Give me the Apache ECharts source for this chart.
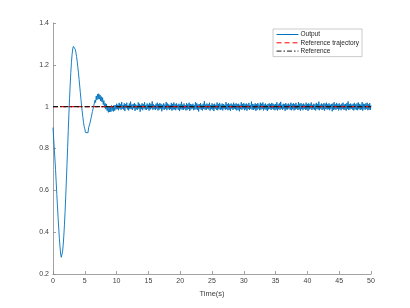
<!DOCTYPE html>
<html>
<head>
<meta charset="utf-8">
<script src="https://cdn.jsdelivr.net/npm/echarts@6/dist/echarts.min.js"></script>
<style>
html,body{margin:0;padding:0;background:#fff;}
#chart{width:410px;height:308px;}
</style>
</head>
<body>
<div id="chart"></div>
<script>
// Sample step of the simulated output (s)
const sampleStep = 0.1;

// Output values, one per sample (t = 0 ... 50 s)
const outputValues = [
0.900,0.850,0.800,0.750,0.700,0.640,0.580,0.525,0.470,0.420,
0.370,0.330,0.295,0.280,0.287,0.306,0.338,0.381,0.435,0.498,
0.569,0.645,0.724,0.805,0.886,0.964,1.038,1.104,1.163,1.212,
1.250,1.276,1.288,1.289,1.284,1.274,1.260,1.240,1.217,1.191,
1.162,1.131,1.099,1.066,1.034,1.003,0.974,0.948,0.925,0.905,
0.894,0.877,0.881,0.869,0.885,0.875,0.899,0.892,0.920,0.914,
0.947,0.942,0.977,0.970,1.003,0.994,1.031,1.020,1.051,1.032,
1.060,1.036,1.062,1.036,1.056,1.027,1.048,1.023,1.043,1.010,
1.029,0.996,1.016,0.988,1.013,0.981,0.998,0.973,0.999,0.975,
1.000,0.975,1.006,0.981,1.002,0.977,1.007,0.981,1.007,0.987,
1.014,0.988,1.009,0.983,1.018,0.991,1.011,0.985,1.022,0.990,
1.008,0.986,1.016,0.979,1.012,0.993,1.019,0.987,1.006,0.982,
1.015,0.989,1.024,0.988,1.010,0.984,1.013,0.992,1.017,0.980,
1.011,0.987,1.007,0.985,1.020,0.990,1.014,0.976,1.009,0.988,
1.016,0.983,1.012,0.991,1.021,0.986,1.008,0.984,1.015,0.989,
1.010,0.981,1.018,0.987,1.013,0.992,1.025,0.985,1.011,0.988,
1.007,0.984,1.014,0.990,1.019,0.982,1.012,0.986,1.017,0.991,
1.013,0.978,1.009,0.987,1.016,0.985,1.010,0.989,1.022,0.983,
1.015,0.990,1.011,0.984,1.008,0.988,1.018,0.981,1.013,0.986,
1.020,0.987,1.012,0.983,1.016,0.991,1.009,0.985,1.014,0.979,
1.011,0.988,1.023,0.986,1.010,0.984,1.015,0.990,1.007,0.982,
1.017,0.985,1.012,0.989,1.019,0.980,1.013,0.987,1.010,0.991,
1.014,0.983,1.008,0.986,1.021,0.988,1.016,0.984,1.011,0.977,
1.012,0.990,1.017,0.985,1.009,0.982,1.014,0.989,1.026,0.986,
1.010,0.984,1.015,0.991,1.012,0.987,1.019,0.981,1.008,0.988,
1.016,0.986,1.011,0.979,1.014,0.990,1.009,0.985,1.020,0.983,
1.013,0.989,1.018,0.984,1.010,0.987,1.015,0.982,1.012,0.990,
1.009,0.985,1.022,0.988,1.013,0.983,1.017,0.986,1.011,0.980,
1.015,0.991,1.010,0.984,1.019,0.989,1.012,0.987,1.016,0.982,
1.011,0.986,1.014,0.978,1.009,0.988,1.021,0.985,1.013,0.990,
1.017,0.983,1.012,0.987,1.015,0.981,1.010,0.989,1.018,0.984,
1.008,0.990,1.024,0.986,1.013,0.984,1.011,0.988,1.016,0.980,
1.012,0.985,1.017,0.991,1.010,0.983,1.019,0.986,1.014,0.989,
1.020,0.982,1.011,0.988,1.015,0.985,1.009,0.979,1.013,0.987,
1.016,0.989,1.012,0.984,1.018,0.990,1.014,0.986,1.010,0.983,
1.013,0.987,1.021,0.982,1.011,0.988,1.016,0.985,1.023,0.990,
1.009,0.984,1.014,0.989,1.012,0.980,1.017,0.987,1.011,0.986,
1.015,0.991,1.010,0.985,1.019,0.983,1.013,0.988,1.016,0.982,
1.012,0.986,1.018,0.990,1.009,0.984,1.022,0.987,1.014,0.981,
1.017,0.988,1.011,0.983,1.015,0.989,1.010,0.985,1.019,0.986,
1.013,0.980,1.016,0.987,1.012,0.991,1.020,0.984,1.009,0.988,
1.014,0.985,1.011,0.982,1.018,0.989,1.013,0.986,1.024,0.983,
1.010,0.990,1.015,0.984,1.011,0.987,1.017,0.981,1.014,0.989,
1.019,0.986,1.012,0.988,1.016,0.983,1.010,0.990,1.013,0.978,
1.015,0.984,1.021,0.987,1.011,0.985,1.018,0.989,1.012,0.982,
1.016,0.988,1.009,0.983,1.014,0.990,1.019,0.986,1.011,0.985,
1.013,0.981,1.017,0.989,1.025,0.984,1.012,0.987,1.015,0.990,
1.010,0.986,1.014,0.982,1.018,0.988,1.011,0.985,1.016,0.983,
1.020,0.989,1.013,0.984,1.010,0.987,1.022,0.981,1.014,0.988,
1.012,0.985,1.016,0.990,1.019,0.983,1.011,0.986,1.017,0.984,
1.006
];

// Reference trajectory and reference (constant set-point)
const refTime = [0, 50];
const refTrajectoryValues = [1, 1];
const referenceValues = [1, 1];

// Axis ticks
const xTicks = [0, 5, 10, 15, 20, 25, 30, 35, 40, 45, 50];
const yTicks = [0.2, 0.4, 0.6, 0.8, 1, 1.2, 1.4];

const seriesNames = ['Output', 'Reference trajectory', 'Reference'];

const outputData = outputValues.map((v, i) => [i * sampleStep, v]);
const refTrajData = refTime.map((t, i) => [t, refTrajectoryValues[i]]);
const refData = refTime.map((t, i) => [t, referenceValues[i]]);

const chart = echarts.init(document.getElementById('chart'), null, {renderer: 'canvas'});
const fontFam = 'Liberation Sans, Arial, Helvetica, sans-serif';
const axisCol = '#8a8a8a';
const textCol = '#404040';

chart.setOption({
  animation: false,
  backgroundColor: '#ffffff',
  grid: {left: 53, right: 39, top: 23, bottom: 34, containLabel: false},
  legend: {
    orient: 'vertical',
    left: 273, top: 29,
    padding: [2, 3, 2, 3],
    itemGap: 1.3,
    itemWidth: 22, itemHeight: 7,
    borderColor: '#a8a8a8', borderWidth: 0.6,
    backgroundColor: '#ffffff',
    itemStyle: {opacity: 0},
    lineStyle: {width: 1},
    textStyle: {fontSize: 6.5, color: '#262626', fontFamily: fontFam, padding: [0, 0, 0, -3]},
    data: seriesNames
  },
  xAxis: {
    type: 'value',
    min: xTicks[0], max: xTicks[xTicks.length - 1], interval: 5,
    name: 'Time(s)', nameLocation: 'middle', nameGap: 16,
    nameTextStyle: {fontSize: 7.5, color: textCol, fontFamily: fontFam},
    axisLine: {show: true, onZero: false, lineStyle: {color: axisCol, width: 0.8}},
    axisTick: {show: true, inside: true, length: 3, lineStyle: {color: axisCol, width: 0.8}},
    axisLabel: {fontSize: 7, color: textCol, fontFamily: fontFam, margin: 4},
    splitLine: {show: false}
  },
  yAxis: {
    type: 'value',
    min: yTicks[0], max: yTicks[yTicks.length - 1], interval: 0.2,
    axisLine: {show: true, onZero: false, lineStyle: {color: axisCol, width: 0.8}},
    axisTick: {show: true, inside: true, length: 3, lineStyle: {color: axisCol, width: 0.8}},
    axisLabel: {fontSize: 7, color: textCol, fontFamily: fontFam, margin: 4,
      formatter: v => String(Math.round(v * 10) / 10)},
    splitLine: {show: false}
  },
  series: [
    {
      name: seriesNames[0], type: 'line', data: outputData,
      showSymbol: false, symbol: 'none',
      lineStyle: {color: '#0072BD', width: 0.9},
      itemStyle: {color: '#0072BD'}
    },
    {
      name: seriesNames[1], type: 'line', data: refTrajData,
      showSymbol: false, symbol: 'none',
      lineStyle: {color: '#ff0000', width: 1.3, type: [5, 3]},
      itemStyle: {color: '#ff0000'}
    },
    {
      name: seriesNames[2], type: 'line', data: refData,
      showSymbol: false, symbol: 'none',
      lineStyle: {color: '#1a1a1a', width: 1.3, type: [5, 2, 1.5, 2]},
      itemStyle: {color: '#1a1a1a'}
    }
  ]
});
</script>
</body>
</html>
